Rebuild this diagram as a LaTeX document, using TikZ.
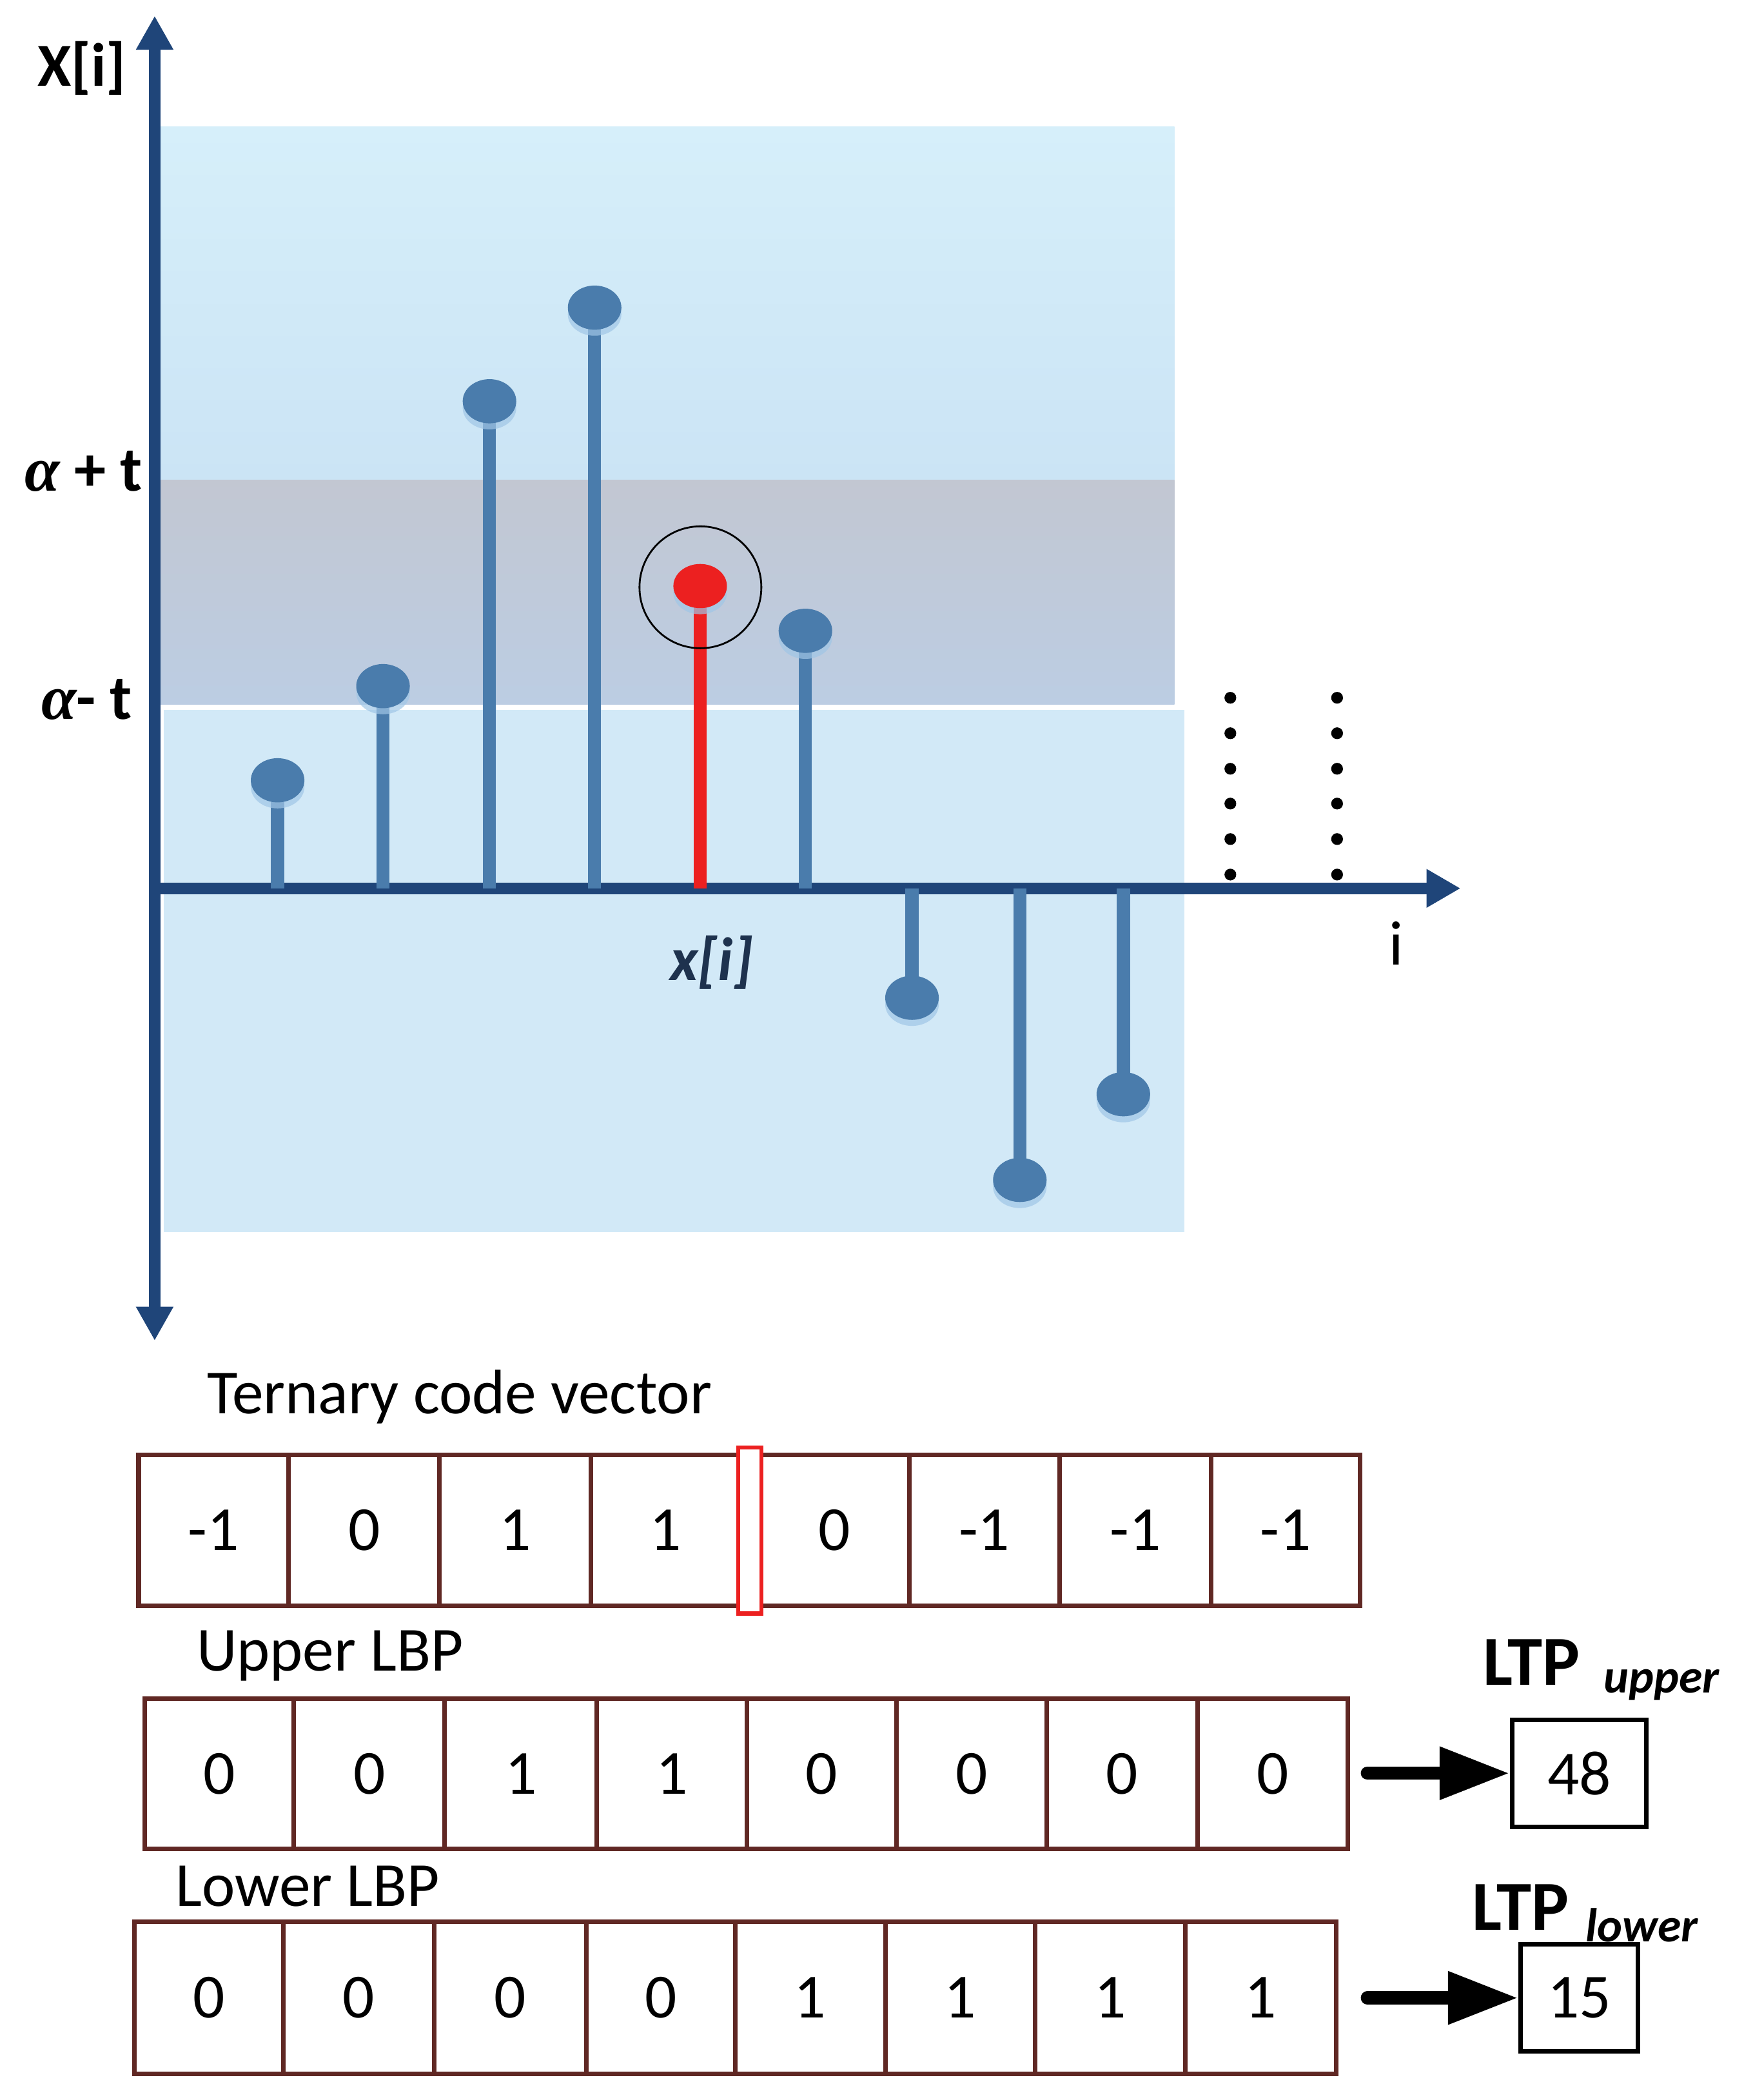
\documentclass[tikz,border=0pt]{standalone}
\usepackage{fontspec}
\setmainfont{Carlito}
\newfontfamily\greekserif{Liberation Serif}
\usetikzlibrary{arrows.meta}
\definecolor{axisblue}{RGB}{31,69,121}
\definecolor{stemblue}{RGB}{74,124,172}
\definecolor{shadowblue}{RGB}{160,198,230}
\definecolor{regtop}{RGB}{214,239,250}
\definecolor{regmid}{RGB}{203,228,245}
\definecolor{bandtop}{RGB}{194,199,210}
\definecolor{bandbot}{RGB}{188,205,227}
\definecolor{reglow}{RGB}{210,233,247}
\definecolor{cellbrown}{RGB}{96,40,36}
\definecolor{markred}{RGB}{236,32,32}
\definecolor{labdark}{RGB}{30,50,78}
\begin{document}
\begin{tikzpicture}[x=0.020768cm, y=-0.020768cm,
  txt/.style={inner sep=0pt, font=\fontsize{27.7}{33}\selectfont},
  boldlab/.style={inner sep=0pt, anchor=base west, font=\fontsize{28}{32}\selectfont\bfseries},
  axisline/.style={draw=axisblue, line width=5.1pt},
  stemline/.style={draw=stemblue, line width=5.8pt},
  cell/.style={draw=cellbrown, line width=2pt, inner sep=0pt, txt},
  resbox/.style={draw=black, line width=2pt, inner sep=0pt, txt},
  bigarrow/.style={line width=5.8pt, line cap=round, -{Triangle[length=31pt,width=22pt]}}]
\useasboundingbox (0,0) rectangle (1302,1568);

% background regions
\shade[top color=regtop, bottom color=regmid] (116,94.5) rectangle (877,358.5);
\shade[top color=bandtop, bottom color=bandbot] (116,358.5) rectangle (877,526);
\fill[reglow] (122.5,530) rectangle (884.6,920);

% axes
\draw[axisline, {Triangle[length=15pt,width=15.5pt]}-{Triangle[length=15pt,width=15.5pt]}] (115.5,1001) -- (115.5,11.8);
\draw[axisline, -{Triangle[length=15pt,width=16pt]}] (115.5,663.3) -- (1090.6,663.3);

% stems
\foreach \sx/\sy in {207.3/582.6, 286/512.3, 365.5/299.6, 444/229.7, 601.4/471, 681/745, 761.5/881, 838.8/817} {
  \draw[stemline] (\sx,663.3) -- (\sx,\sy);
  \fill[shadowblue, opacity=0.7] (\sx,\sy+5) ellipse [x radius=20, y radius=16];
  \fill[stemblue] (\sx,\sy) ellipse [x radius=20, y radius=16.5];
}
\draw[stemline, draw=markred] (522.8,663.3) -- (522.8,437.6);
\fill[shadowblue, opacity=0.7] (522.8,442.6) ellipse [x radius=20, y radius=16];
\fill[markred] (522.8,437.6) ellipse [x radius=20, y radius=16.5];
\draw[black, line width=0.8pt] (523,438.5) circle [radius=45.5];

% dots
\foreach \dx in {918.7, 998.4}
  \foreach \dy in {521, 547.5, 574, 600, 626.5, 653}
    \fill[black] (\dx,\dy) circle [radius=4.4];

% axis labels
\node[boldlab, font=\fontsize{27}{30}\selectfont\bfseries] (Xlab) at (27.6,64.4) {X[i]};
\node[boldlab] (aplus) at (18.4,366.7) {{\greekserif\itshape α} + t};
\node[boldlab] (aminus) at (30.5,537) {{\greekserif\itshape α}- t};
\node[inner sep=0pt, anchor=base west, text=labdark, font=\fontsize{27}{30}\selectfont\bfseries\itshape] (xilab) at (500,732) {x[i]};
\node[txt, anchor=base] (ilab) at (1042.4,720.4) {i};

% row titles
\node[txt, anchor=base west] (tern) at (154.4,1055.5) {Ternary code vector};
\node[txt, anchor=base west] (upp) at (146.6,1247.5) {Upper LBP};
\node[txt, anchor=base west] (low) at (131,1423.3) {Lower LBP};

% row 1
\foreach \a/\b/\v [count=\k] in {103.5/215.5/-1, 215.5/328.2/0, 328.2/441/1, 441/553/1, 567/679/0, 679/791/-1, 791/904.5/-1, 904.5/1015.5/-1} {
  \pgfmathsetmacro\cw{(\b-\a)*0.020768}
  \pgfmathsetmacro\cx{(\a+\b)/2}
  \node[cell, minimum width=\cw cm, minimum height=2.332cm] (ra\k) at (\cx,1142.65) {\v};
}
\node[draw=markred, line width=1.8pt, fill=white, inner sep=0pt, minimum width=0.36cm, minimum height=2.573cm] (mark) at (560,1142.75) {};

% row 2
\foreach \a/\b/\v [count=\k] in {108.2/219.4/0, 219.4/332.1/0, 332.1/445.7/1, 445.7/557.6/1, 557.6/669.6/0, 669.6/781.5/0, 781.5/894.1/0, 894.1/1006.3/0} {
  \pgfmathsetmacro\cw{(\b-\a)*0.020768}
  \pgfmathsetmacro\cx{(\a+\b)/2}
  \node[cell, minimum width=\cw cm, minimum height=2.338cm] (rb\k) at (\cx,1324.4) {\v};
}

% row 3
\foreach \a/\b/\v [count=\k] in {100.4/211.6/0, 211.6/324.3/0, 324.3/437.8/0, 437.8/548.9/0, 548.9/661/1, 661/773/1, 773/885/1, 885/997.7/1} {
  \pgfmathsetmacro\cw{(\b-\a)*0.020768}
  \pgfmathsetmacro\cx{(\a+\b)/2}
  \node[cell, minimum width=\cw cm, minimum height=2.357cm] (rc\k) at (\cx,1491.75) {\v};
}

% results
\node[resbox, minimum width=2.083cm, minimum height=1.661cm] (b48) at (1179.2,1324) {48};
\node[resbox, minimum width=1.819cm, minimum height=1.659cm] (b15) at (1179.2,1491.75) {15};
\node[boldlab, font=\fontsize{31}{34}\selectfont\bfseries] (ltpu) at (1107,1258) {LTP};
\node[inner sep=0pt, anchor=base west, font=\fontsize{21}{24}\selectfont\bfseries\itshape] (ltpus) at (1197.3,1264) {upper};
\node[boldlab, font=\fontsize{31}{34}\selectfont\bfseries] (ltpl) at (1099,1441) {LTP};
\node[inner sep=0pt, anchor=base west, font=\fontsize{21}{24}\selectfont\bfseries\itshape] (ltpls) at (1183.7,1450) {lower};

\coordinate (a1) at (1021,1324);
\coordinate (a2) at (1021,1491.75);
\draw[bigarrow] (a1) -- (b48.west);
\draw[bigarrow] (a2) -- (b15.west);
\end{tikzpicture}
\end{document}
